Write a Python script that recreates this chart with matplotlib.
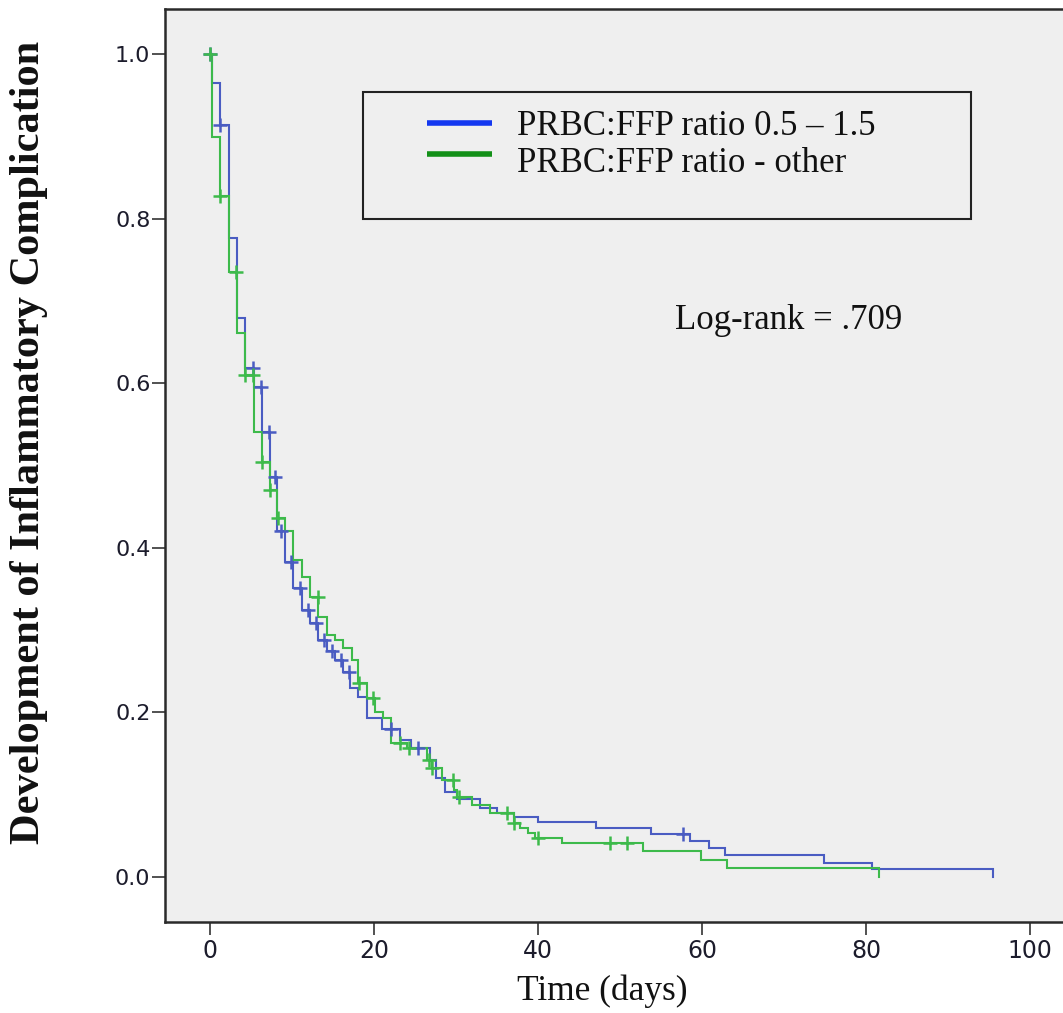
import numpy as np
import matplotlib
matplotlib.use("Agg")
import matplotlib.pyplot as plt
from matplotlib.patches import Rectangle
from matplotlib.lines import Line2D

# ---------------- data ----------------
# Kaplan-Meier drop times (days) and survival after each drop
blue_times = [0.0, 0.2, 1.2, 2.3, 3.25, 4.3, 5.3, 6.3, 7.3, 8.1, 9.1, 10.1, 11.2, 12.2,
              13.2, 14.2, 15.2, 16.2, 17.0, 18.0, 19.1, 21.0, 23.2, 24.5, 26.8, 27.6,
              28.7, 30.1, 32.9, 35.0, 37.0, 40.0, 47.0, 53.8, 58.5, 60.8, 62.8, 74.8,
              80.7, 95.5]
blue_surv = [1.0, 0.965, 0.914, 0.776, 0.679, 0.618, 0.595, 0.541, 0.486, 0.42, 0.383,
             0.351, 0.324, 0.308, 0.288, 0.274, 0.264, 0.249, 0.23, 0.219, 0.193, 0.18,
             0.166, 0.157, 0.142, 0.12, 0.103, 0.094, 0.083, 0.078, 0.073, 0.066, 0.059,
             0.052, 0.043, 0.035, 0.026, 0.017, 0.009, 0.0]
blue_censored = [0.0, 1.2, 5.2, 6.2, 7.2, 7.9, 8.7, 9.9, 10.9, 11.9, 12.9, 13.9, 14.9,
                 15.9, 16.9, 22.0, 25.4, 57.7]

green_times = [0.0, 0.2, 1.2, 2.3, 3.25, 4.3, 5.3, 6.3, 7.3, 8.1, 9.15, 10.1, 11.2, 12.2,
               13.2, 14.2, 15.2, 16.2, 17.3, 18.0, 19.1, 20.1, 21.1, 22.0, 24.0, 26.5,
               27.0, 28.3, 29.7, 30.1, 31.9, 34.1, 37.0, 37.8, 38.8, 39.6, 42.9, 52.8,
               59.8, 63.0, 81.5]
green_surv = [1.0, 0.899, 0.828, 0.735, 0.661, 0.61, 0.541, 0.504, 0.47, 0.436, 0.42,
              0.385, 0.365, 0.34, 0.316, 0.294, 0.288, 0.278, 0.264, 0.236, 0.217, 0.2,
              0.193, 0.163, 0.157, 0.142, 0.132, 0.118, 0.106, 0.097, 0.0875, 0.078,
              0.065, 0.059, 0.053, 0.047, 0.041, 0.0316, 0.0207, 0.011, 0.0]
green_censored = [0.0, 1.2, 3.2, 4.3, 5.2, 6.3, 7.3, 8.3, 13.1, 18.1, 19.9, 23.2, 24.2,
                  26.7, 27.1, 29.6, 30.3, 36.2, 37.1, 40.0, 48.8, 50.8]

series_labels = ["PRBC:FFP ratio 0.5 \u2013 1.5", "PRBC:FFP ratio - other"]
x_ticks = [0, 20, 40, 60, 80, 100]
y_ticks = [0.0, 0.2, 0.4, 0.6, 0.8, 1.0]
annotation = "Log-rank = .709"
x_label = "Time (days)"
y_label = "Development of Inflammatory Complication"

# ---------------- style ----------------
BLUE_LINE = "#4a5cc2"
GREEN_LINE = "#3dba4b"
BLUE_LEG = "#1438f0"
GREEN_LEG = "#139018"
BG = "#efefef"
SERIF = ["Liberation Serif", "DejaVu Serif"]

fig = plt.figure(figsize=(10.63, 10.13), dpi=100)
fig.patch.set_facecolor("white")
ax = fig.add_axes([165 / 1063, 1 - 922 / 1013, 903 / 1063, 913 / 1013])
ax.set_facecolor(BG)


def censor_y(times, surv, cens):
    t = np.asarray(times)
    s = np.asarray(surv)
    idx = np.searchsorted(t, np.asarray(cens), side="right") - 1
    return s[idx]


for times, surv, cens, col in [(blue_times, blue_surv, blue_censored, BLUE_LINE),
                               (green_times, green_surv, green_censored, GREEN_LINE)]:
    ax.step(times, surv, where="post", color=col, lw=1.5, solid_joinstyle="miter", zorder=3)
    ax.plot(cens, censor_y(times, surv, cens), linestyle="none", marker="+",
            markersize=10, markeredgewidth=1.8, color=col, zorder=4)

ax.set_xlim(-5.5, 104.6)
ax.set_ylim(-0.055, 1.055)
ax.set_xticks(x_ticks)
ax.set_yticks(y_ticks)
ax.set_yticklabels([f"{v:.1f}" for v in y_ticks])
ax.tick_params(axis="both", direction="out", length=9.5, width=1.2, color="#333333",
               labelcolor="#1c1c2c")
ax.tick_params(axis="y", labelsize=16, pad=1)
ax.tick_params(axis="x", labelsize=17, pad=3)
for sp in ax.spines.values():
    sp.set_linewidth(1.8)
    sp.set_color("#2a2a2a")

# legend box drawn manually
ax.add_patch(Rectangle((0.2193, 0.770), 0.8926 - 0.2193, 0.909 - 0.770,
                       transform=ax.transAxes, facecolor=BG, edgecolor="#222222",
                       lw=1.5, zorder=5))
for yy, col, lab, ty in [(0.875, BLUE_LEG, series_labels[0], 0.8718),
                         (0.841, GREEN_LEG, series_labels[1], 0.831)]:
    ax.add_line(Line2D([0.290, 0.362], [yy, yy], transform=ax.transAxes, color=col,
                       lw=4.0, solid_capstyle="butt", zorder=6))
    ax.text(0.3898, ty, lab, transform=ax.transAxes, family=SERIF, fontsize=25,
            ha="left", va="center", color="#111111", zorder=6)

ax.text(0.5648, 0.659, annotation, transform=ax.transAxes, family=SERIF, fontsize=25,
        ha="left", va="center", color="#111111")

fig.text(602 / 1063, 1 - 991 / 1013, x_label, family=SERIF, fontsize=25.5,
         ha="center", va="center", color="#111111")
fig.text(29 / 1063, 1 - 442 / 1013, y_label, family=SERIF, fontsize=30.5, fontweight="bold",
         rotation=90, ha="center", va="center", color="#111111")

fig.savefig("out.png", dpi=100, facecolor="white")
